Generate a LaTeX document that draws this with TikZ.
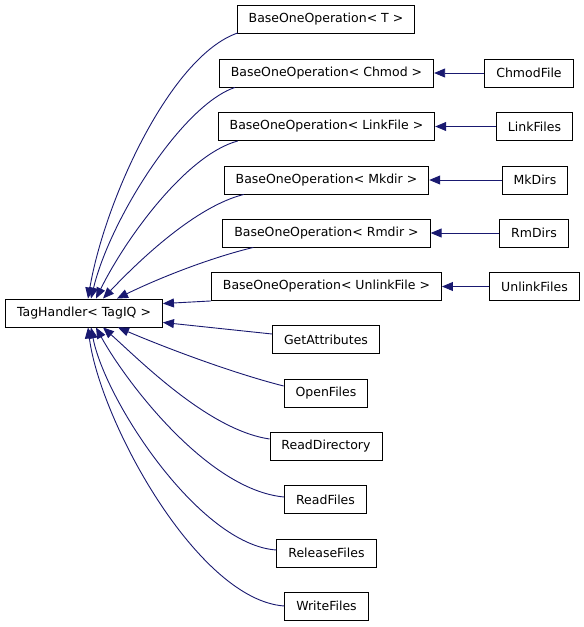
\documentclass[tikz,border=0pt]{standalone}
\usepackage{fontspec}
\setmainfont{DejaVu Sans}
\usetikzlibrary{arrows.meta}
\definecolor{edgeblue}{RGB}{25,25,112}
\tikzset{
  cls/.style={draw=black, line width=0.9pt, fill=white, minimum height=28pt,
    inner xsep=11.5pt, inner ysep=0pt, font=\fontsize{12.5}{14}\selectfont},
  inherit/.style={draw=edgeblue, line width=0.9pt, -{Triangle[length=11pt,width=9pt]}}
}
\begin{document}
\begin{tikzpicture}[x=1pt, y=1pt]

\useasboundingbox (0,0) rectangle (584,-627);

% base class
\node[cls] (th) at (84,-313) {TagHandler< TagIQ >};

% middle column
\node[cls] (bT)      at (326,-19.5) {BaseOneOperation< T >};
\node[cls] (bChmod)  at (326.5,-73) {BaseOneOperation< Chmod >};
\node[cls] (bLink)   at (326.5,-126.5) {BaseOneOperation< LinkFile >};
\node[cls] (bMkdir)  at (326.5,-180) {BaseOneOperation< Mkdir >};
\node[cls] (bRmdir)  at (326.5,-233) {BaseOneOperation< Rmdir >};
\node[cls] (bUnlink) at (326.5,-286.5) {BaseOneOperation< UnlinkFile >};
\node[cls] (getattr) at (326,-339.5) {GetAttributes};
\node[cls] (openf)   at (326,-393) {OpenFiles};
\node[cls] (readdir) at (326,-446) {ReadDirectory};
\node[cls] (readf)   at (325.5,-499.5) {ReadFiles};
\node[cls] (relf)    at (326.5,-553) {ReleaseFiles};
\node[cls] (writef)  at (326.5,-606) {WriteFiles};

% right column
\node[cls] (chmodf)  at (529,-73) {ChmodFile};
\node[cls] (linkf)   at (534.5,-126.5) {LinkFiles};
\node[cls] (mkdirs)  at (535,-180) {MkDirs};
\node[cls] (rmdirs)  at (534,-233) {RmDirs};
\node[cls] (unlinkf) at (534.5,-286.5) {UnlinkFiles};

% right column -> templates
\draw[inherit] (chmodf) -- (bChmod);
\draw[inherit] (linkf) -- (bLink);
\draw[inherit] (mkdirs) -- (bMkdir);
\draw[inherit] (rmdirs) -- (bRmdir);
\draw[inherit] (unlinkf) -- (bUnlink);

% upper edges into the base class
\draw[inherit] ([xshift=1pt,yshift=1pt]bT.south west)
  .. controls +(-67,-23) and +(17,99) .. ([xshift=4pt]th.north);
\draw[inherit] ([xshift=16pt]bChmod.south west)
  .. controls +(-53,-18) and +(19,79) .. ([xshift=7pt]th.north);
\draw[inherit] ([xshift=20pt]bLink.south west)
  .. controls +(-52,-14) and +(29,59) .. ([xshift=12pt]th.north);
\draw[inherit] ([xshift=20pt]bMkdir.south west)
  .. controls +(-48,-12) and +(37,39) .. ([xshift=19pt]th.north);
\draw[inherit] ([xshift=31pt]bRmdir.south west)
  .. controls +(-42,-10) and +(43,21) .. ([xshift=33pt]th.north);
\draw[inherit] (bUnlink.south west) -- ([yshift=-5pt]th.north east);
\draw[inherit] ([yshift=5.5pt]getattr.west) -- ([yshift=5pt]th.south east);

% lower edges into the base class
\draw[inherit] ([yshift=7pt]openf.west)
  .. controls +(-55,14) and +(42,-18) .. ([xshift=34pt]th.south);
\draw[inherit] ([yshift=7pt]readdir.west)
  .. controls +(-61,9) and +(37,-33) .. ([xshift=19pt]th.south);
\draw[inherit] ([yshift=2.5pt]readf.west)
  .. controls +(-77,7) and +(29,-53) .. ([xshift=12pt]th.south);
\draw[inherit] ([yshift=3pt]relf.west)
  .. controls +(-77,5) and +(14,-73) .. ([xshift=7pt]th.south);
\draw[inherit] (writef.west)
  .. controls +(-87,6) and +(12,-93) .. ([xshift=4pt]th.south);

\end{tikzpicture}
\end{document}
